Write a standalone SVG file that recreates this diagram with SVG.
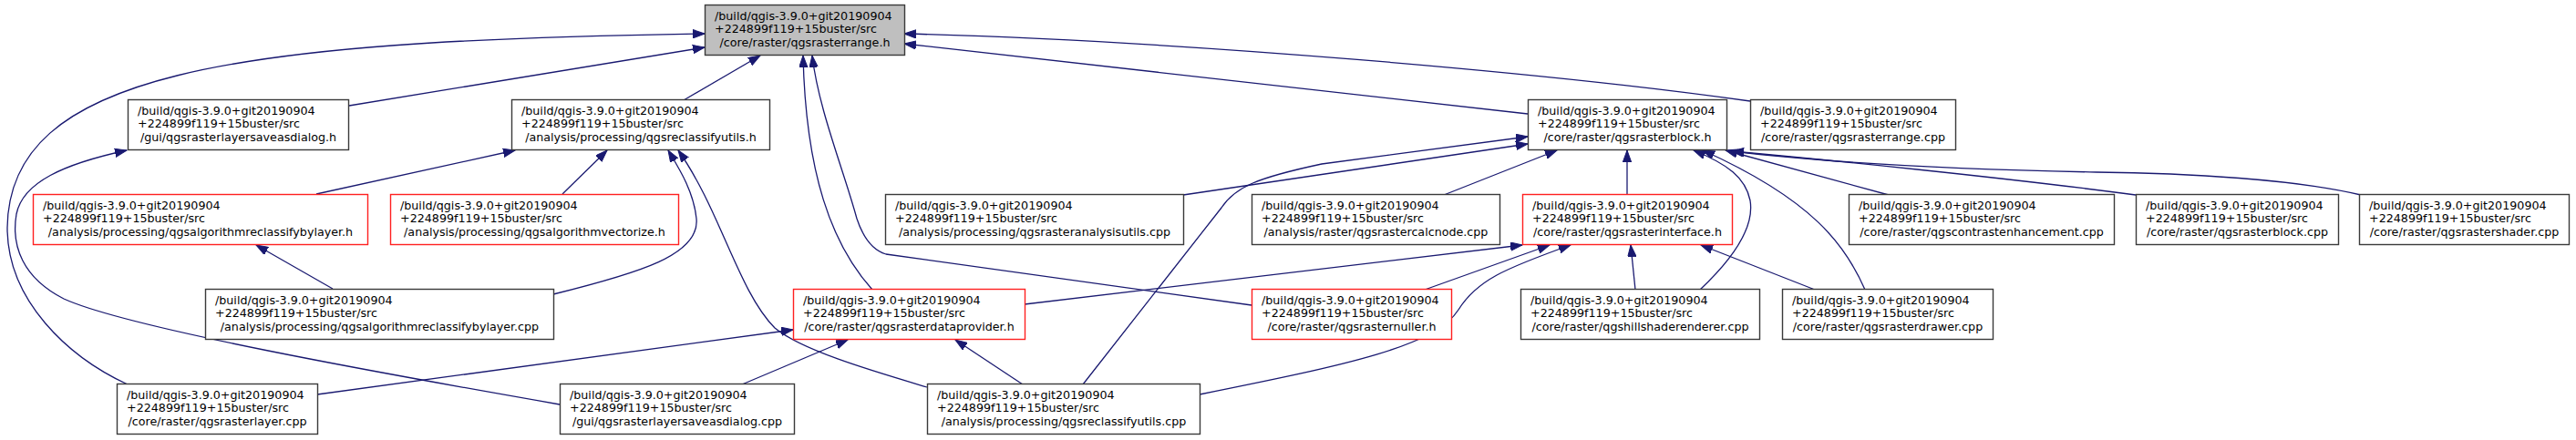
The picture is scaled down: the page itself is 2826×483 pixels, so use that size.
<svg xmlns="http://www.w3.org/2000/svg" width="2826" height="483" viewBox="0 0 2826 483">
<style>
.n rect{fill:#fff;stroke:#3a3a3a;stroke-width:1.4}
.n.r rect{stroke:#ff2020}
.n.m rect{fill:#bfbfbf}
.n text{font-family:"DejaVu Sans",sans-serif;font-size:12.7px;fill:#000}
.n text.c{text-anchor:middle}
#edges path{fill:none;stroke:#191970;stroke-width:1.3;marker-end:url(#ah)}
</style>
<defs>
<marker id="ah" markerUnits="userSpaceOnUse" markerWidth="14" markerHeight="10" refX="13" refY="4.7" orient="auto">
<path d="M0,0 L13,4.7 L0,9.4 Z" fill="#191970" stroke="#191970" stroke-width="1"/>
</marker>
</defs>
<rect width="2826" height="483" fill="#fff"/>
<g id="edges">
<path d="M140,422 C75,392 8,330 8,250 C10,80 250,45 773,37"/>
<path d="M383,116 L773,52"/>
<path d="M750,110 L834,61"/>
<path d="M957,318 C912,268 884,190 881,61"/>
<path d="M1373,335 L972,279 C955,274 946,258 940,240 C925,185 898,120 891,61"/>
<path d="M1920,111 C1700,80 1300,45 992,37"/>
<path d="M1676,125 L992,48"/>
<path d="M614,444 C420,410 140,360 70,328 C25,305 12,270 18,235 C25,200 70,180 139,165"/>
<path d="M347,213 L565,165"/>
<path d="M617,213 L666,165"/>
<path d="M607,323 C700,300 768,280 764,240 C761,210 745,185 733,165"/>
<path d="M1017,425 C960,408 880,385 850,360 C810,320 790,230 744,165"/>
<path d="M365,317 L281,269"/>
<path d="M348,433 L870,362"/>
<path d="M814,422 L930,373"/>
<path d="M1122,422 L1048,373"/>
<path d="M1298,214 L1676,158"/>
<path d="M1188,422 L1340,228 C1355,205 1380,195 1450,180 L1676,150"/>
<path d="M1584,214 L1708,165"/>
<path d="M1785,214 L1785,165"/>
<path d="M1865,318 C1900,285 1925,250 1920,220 C1915,195 1895,180 1858,165"/>
<path d="M2046,318 C2025,270 1990,220 1868,165"/>
<path d="M2072,214 L1893,165"/>
<path d="M2343,214 C2200,195 2000,175 1900,166"/>
<path d="M2590,214 C2520,197 2400,190 2300,189 C2150,186 2000,178 1900,166"/>
<path d="M1124,334 L1670,269"/>
<path d="M1563,318 L1700,269"/>
<path d="M1316,433 C1480,400 1575,380 1600,340 C1620,308 1650,295 1723,269"/>
<path d="M1794,318 L1789,269"/>
<path d="M1991,318 L1866,269"/>
</g>
<g id="n_main" class="n m"><rect x="773.5" y="5.5" width="219" height="55"/><text x="784" y="22">/build/qgis-3.9.0+git20190904</text><text x="784" y="36.4">+224899f119+15buster/src</text><text class="c" x="883" y="50.8">/core/raster/qgsrasterrange.h</text></g>
<g id="n_saveasdlg_h" class="n"><rect x="140.5" y="109.5" width="242" height="55"/><text x="151" y="126">/build/qgis-3.9.0+git20190904</text><text x="151" y="140.4">+224899f119+15buster/src</text><text class="c" x="261.5" y="154.8">/gui/qgsrasterlayersaveasdialog.h</text></g>
<g id="n_reclassutils_h" class="n"><rect x="561.5" y="109.5" width="283" height="55"/><text x="572" y="126">/build/qgis-3.9.0+git20190904</text><text x="572" y="140.4">+224899f119+15buster/src</text><text class="c" x="703" y="154.8">/analysis/processing/qgsreclassifyutils.h</text></g>
<g id="n_rasterblock_h" class="n"><rect x="1676.5" y="109.5" width="218" height="55"/><text x="1687" y="126">/build/qgis-3.9.0+git20190904</text><text x="1687" y="140.4">+224899f119+15buster/src</text><text class="c" x="1785.5" y="154.8">/core/raster/qgsrasterblock.h</text></g>
<g id="n_rasterrange_cpp" class="n"><rect x="1920.5" y="109.5" width="225" height="55"/><text x="1931" y="126">/build/qgis-3.9.0+git20190904</text><text x="1931" y="140.4">+224899f119+15buster/src</text><text class="c" x="2033" y="154.8">/core/raster/qgsrasterrange.cpp</text></g>
<g id="n_reclassbylayer_h" class="n r"><rect x="36.5" y="213.5" width="367" height="55"/><text x="47" y="230">/build/qgis-3.9.0+git20190904</text><text x="47" y="244.4">+224899f119+15buster/src</text><text class="c" x="220" y="258.8">/analysis/processing/qgsalgorithmreclassifybylayer.h</text></g>
<g id="n_vectorize_h" class="n r"><rect x="428.5" y="213.5" width="316" height="55"/><text x="439" y="230">/build/qgis-3.9.0+git20190904</text><text x="439" y="244.4">+224899f119+15buster/src</text><text class="c" x="586.5" y="258.8">/analysis/processing/qgsalgorithmvectorize.h</text></g>
<g id="n_analysisutils_cpp" class="n"><rect x="971.5" y="213.5" width="327" height="55"/><text x="982" y="230">/build/qgis-3.9.0+git20190904</text><text x="982" y="244.4">+224899f119+15buster/src</text><text class="c" x="1135" y="258.8">/analysis/processing/qgsrasteranalysisutils.cpp</text></g>
<g id="n_calcnode_cpp" class="n"><rect x="1373.5" y="213.5" width="272" height="55"/><text x="1384" y="230">/build/qgis-3.9.0+git20190904</text><text x="1384" y="244.4">+224899f119+15buster/src</text><text class="c" x="1509.5" y="258.8">/analysis/raster/qgsrastercalcnode.cpp</text></g>
<g id="n_rasterinterface_h" class="n r"><rect x="1670.5" y="213.5" width="230" height="55"/><text x="1681" y="230">/build/qgis-3.9.0+git20190904</text><text x="1681" y="244.4">+224899f119+15buster/src</text><text class="c" x="1785.5" y="258.8">/core/raster/qgsrasterinterface.h</text></g>
<g id="n_contrast_cpp" class="n"><rect x="2028.5" y="213.5" width="291" height="55"/><text x="2039" y="230">/build/qgis-3.9.0+git20190904</text><text x="2039" y="244.4">+224899f119+15buster/src</text><text class="c" x="2174" y="258.8">/core/raster/qgscontrastenhancement.cpp</text></g>
<g id="n_rasterblock_cpp" class="n"><rect x="2343.5" y="213.5" width="222" height="55"/><text x="2354" y="230">/build/qgis-3.9.0+git20190904</text><text x="2354" y="244.4">+224899f119+15buster/src</text><text class="c" x="2454.5" y="258.8">/core/raster/qgsrasterblock.cpp</text></g>
<g id="n_rastershader_cpp" class="n"><rect x="2588.5" y="213.5" width="230" height="55"/><text x="2599" y="230">/build/qgis-3.9.0+git20190904</text><text x="2599" y="244.4">+224899f119+15buster/src</text><text class="c" x="2703.5" y="258.8">/core/raster/qgsrastershader.cpp</text></g>
<g id="n_reclassbylayer_cpp" class="n"><rect x="225.5" y="317.5" width="382" height="55"/><text x="236" y="334">/build/qgis-3.9.0+git20190904</text><text x="236" y="348.4">+224899f119+15buster/src</text><text class="c" x="416.5" y="362.8">/analysis/processing/qgsalgorithmreclassifybylayer.cpp</text></g>
<g id="n_dataprovider_h" class="n r"><rect x="870.5" y="317.5" width="254" height="55"/><text x="881" y="334">/build/qgis-3.9.0+git20190904</text><text x="881" y="348.4">+224899f119+15buster/src</text><text class="c" x="997.5" y="362.8">/core/raster/qgsrasterdataprovider.h</text></g>
<g id="n_nuller_h" class="n r"><rect x="1373.5" y="317.5" width="219" height="55"/><text x="1384" y="334">/build/qgis-3.9.0+git20190904</text><text x="1384" y="348.4">+224899f119+15buster/src</text><text class="c" x="1483" y="362.8">/core/raster/qgsrasternuller.h</text></g>
<g id="n_hillshade_cpp" class="n"><rect x="1668.5" y="317.5" width="262" height="55"/><text x="1679" y="334">/build/qgis-3.9.0+git20190904</text><text x="1679" y="348.4">+224899f119+15buster/src</text><text class="c" x="1799.5" y="362.8">/core/raster/qgshillshaderenderer.cpp</text></g>
<g id="n_drawer_cpp" class="n"><rect x="1955.5" y="317.5" width="231" height="55"/><text x="1966" y="334">/build/qgis-3.9.0+git20190904</text><text x="1966" y="348.4">+224899f119+15buster/src</text><text class="c" x="2071" y="362.8">/core/raster/qgsrasterdrawer.cpp</text></g>
<g id="n_rasterlayer_cpp" class="n"><rect x="128.5" y="421.5" width="220" height="55"/><text x="139" y="438">/build/qgis-3.9.0+git20190904</text><text x="139" y="452.4">+224899f119+15buster/src</text><text class="c" x="238.5" y="466.8">/core/raster/qgsrasterlayer.cpp</text></g>
<g id="n_saveasdlg_cpp" class="n"><rect x="614.5" y="421.5" width="257" height="55"/><text x="625" y="438">/build/qgis-3.9.0+git20190904</text><text x="625" y="452.4">+224899f119+15buster/src</text><text class="c" x="743" y="466.8">/gui/qgsrasterlayersaveasdialog.cpp</text></g>
<g id="n_reclassutils_cpp" class="n"><rect x="1017.5" y="421.5" width="299" height="55"/><text x="1028" y="438">/build/qgis-3.9.0+git20190904</text><text x="1028" y="452.4">+224899f119+15buster/src</text><text class="c" x="1167" y="466.8">/analysis/processing/qgsreclassifyutils.cpp</text></g>
</svg>
